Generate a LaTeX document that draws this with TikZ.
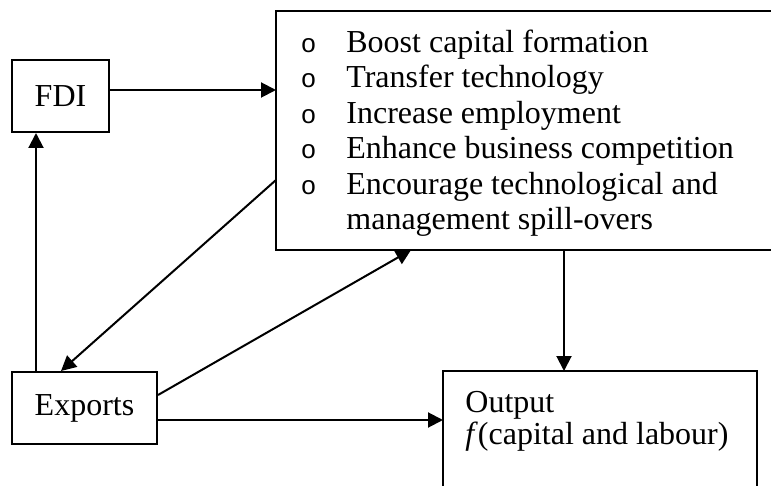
\documentclass[tikz,border=0pt]{standalone}
\usepackage{fontspec}
\setmainfont{Liberation Serif}
\newfontfamily\bulfont{Liberation Sans}
\usetikzlibrary{arrows.meta}
\begin{document}
\begin{tikzpicture}[x=0.5pt,y=-0.5pt,
  box/.style={draw, line width=1pt, inner sep=0pt, font=\fontsize{16}{17.75}\selectfont},
  txt/.style={inner sep=0pt, anchor=base west},
  conn/.style={line width=1pt, -{Triangle[length=7.5pt,width=7.5pt]}}]
\useasboundingbox (0,0) rectangle (771,486);
\coordinate (redge) at (771,0);
\node[box, minimum width=48.5pt, minimum height=36pt] (fdi) at (60.5,96) {FDI};
\node[box, draw=none, minimum width=247pt, minimum height=118.5pt] (eff) at (524,130.5) {};
\draw[line width=1pt] (eff.north west -| redge) -- (eff.north west) -- (eff.south west) -- (eff.south west -| redge);
\node[box, minimum width=72.5pt, minimum height=36pt] (exp) at (84.5,408) {Exports};
\node[box, draw=none, minimum width=156pt, minimum height=74pt] (out) at (600,446) {};
\draw[line width=1pt] (out.south west |- 0,486) -- (out.north west) -- (out.north east) -- (out.south east |- 0,486);
\newcommand\bl{{\bulfont\fontsize{13}{13}\selectfont o}}
\node[txt] (efftext) at (301,52.3) {\fontsize{16}{17.75}\selectfont
  \begin{tabular}[t]{@{}p{22.5pt}@{}l@{}}
  \bl & Boost capital formation\\
  \bl & Transfer technology\\
  \bl & Increase employment\\
  \bl & Enhance business competition\\
  \bl & Encourage technological and\\
   & management spill-overs
  \end{tabular}};
\node[txt] (outtext) at (465,412) {\fontsize{16}{16}\selectfont
  \begin{tabular}[t]{@{}l@{}}
  Output\\
  \textit{f}(capital and labour)
  \end{tabular}};
% connectors
\draw[conn] ([yshift=3pt]fdi.east) -- ([yshift=3pt]fdi.east -| eff.west);
\draw[conn] ([xshift=12.5pt]exp.north west) -- ([xshift=12.5pt]exp.north west |- fdi.south);
\draw[conn] ([yshift=-24.75pt]eff.west) -- ([xshift=25pt]exp.north west);
\draw[conn] ([yshift=6.5pt]exp.east) -- ([xshift=67.5pt]eff.south west);
\draw[conn] ([xshift=60.5pt]out.north west |- eff.south) -- ([xshift=60.5pt]out.north west);
\draw[conn] ([yshift=-6pt]exp.east) -- ([yshift=-6pt]exp.east -| out.west);
\end{tikzpicture}
\end{document}
